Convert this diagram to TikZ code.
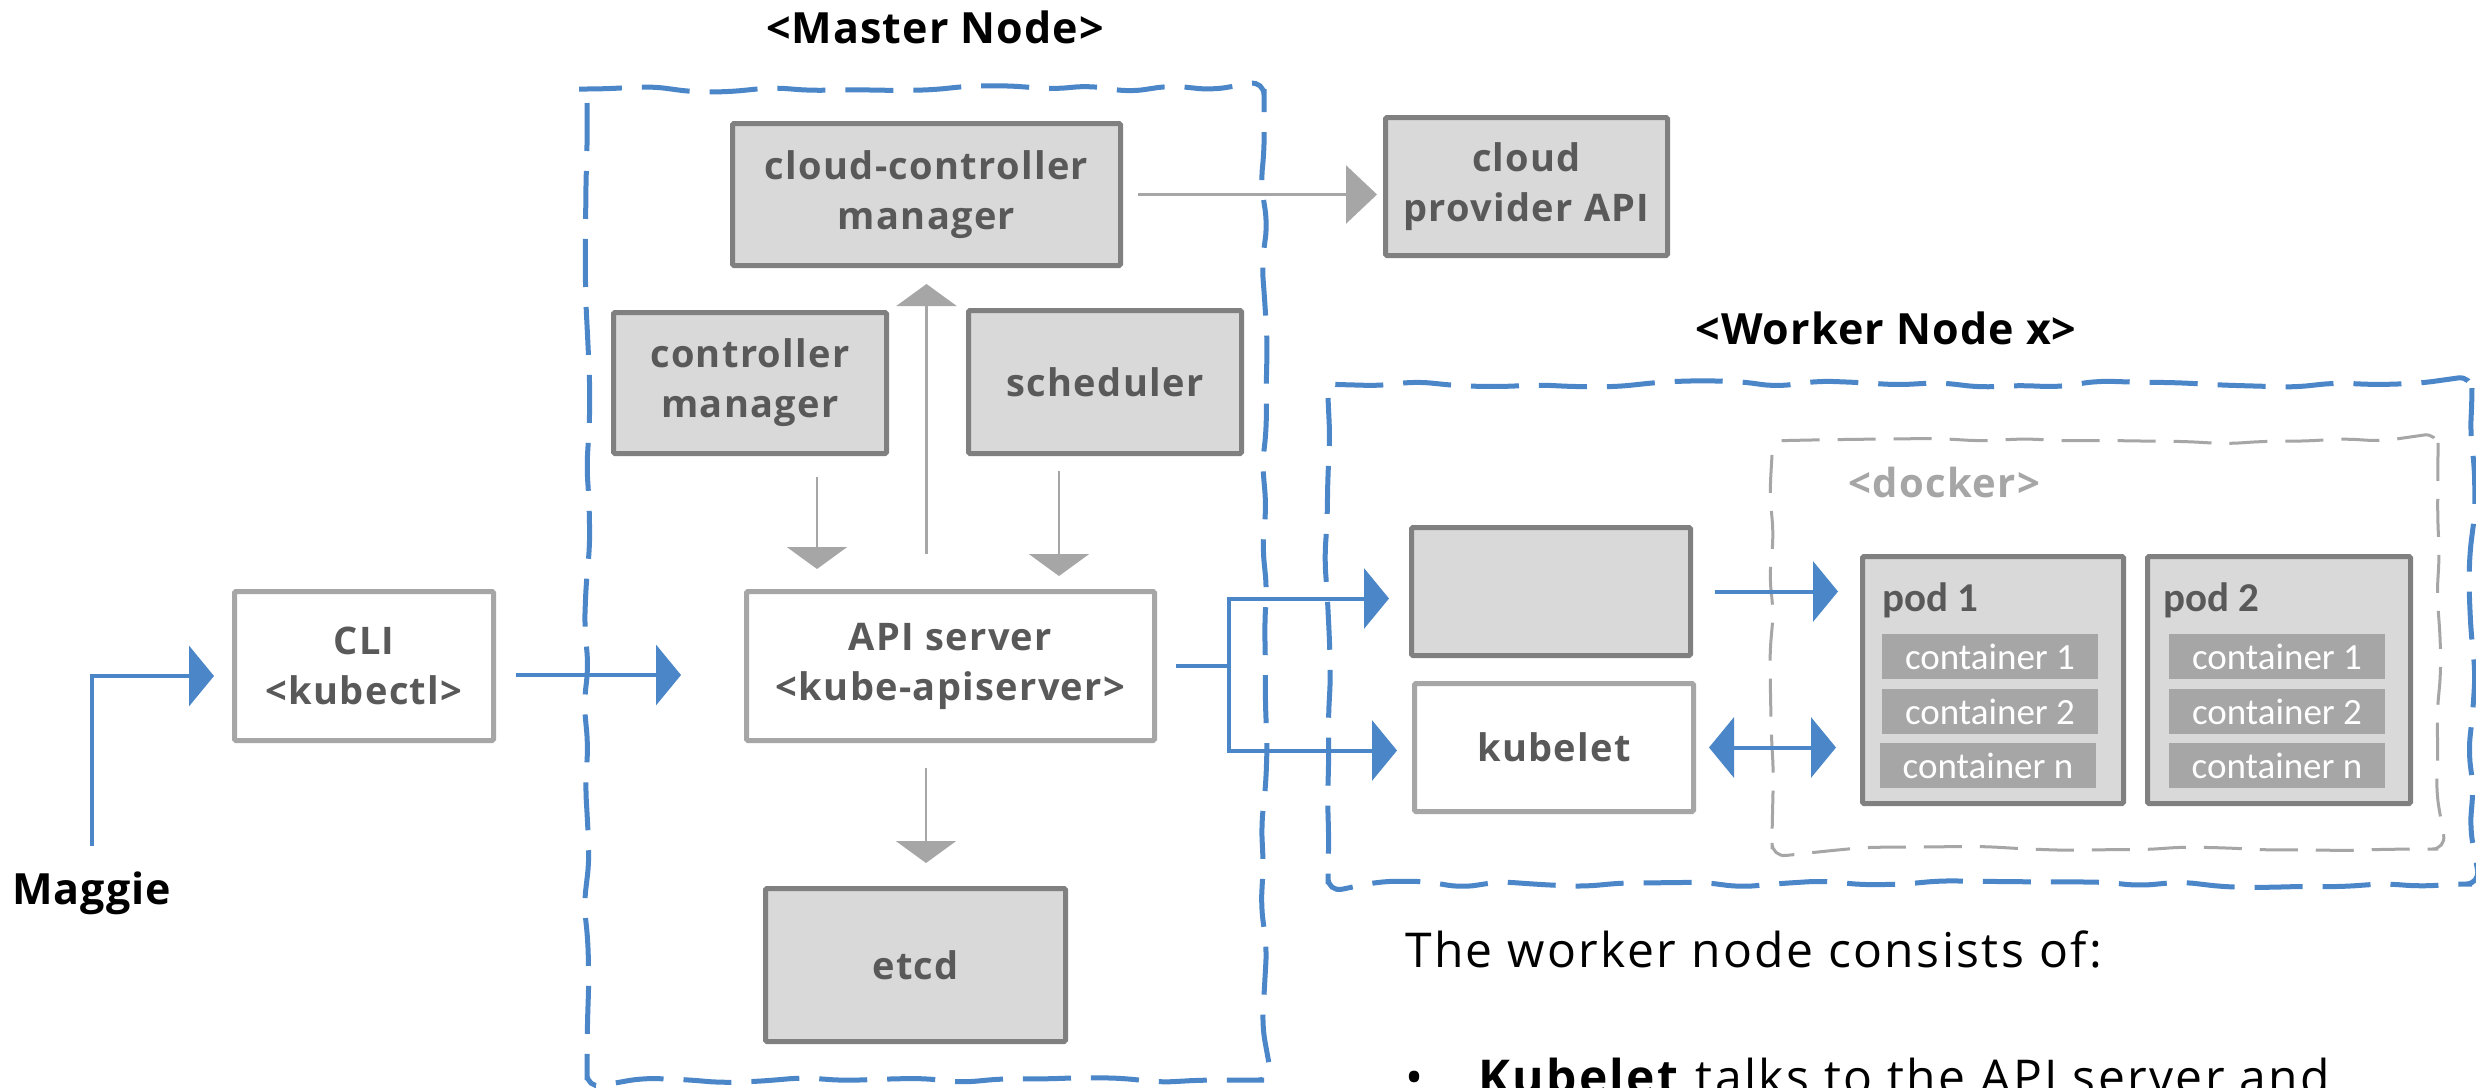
\documentclass[tikz,border=0pt]{standalone}
\usepackage{fontspec}
\setmainfont{Open Sans}
\newfontfamily\lsfont{Open Sans}[LetterSpace=3.5]
\newfontfamily\ttlfont{Open Sans}[LetterSpace=2.5]
\newfontfamily\bdfont{Open Sans}[LetterSpace=5]
\newfontfamily\cfont{Carlito}
\usetikzlibrary{arrows.meta,decorations.pathmorphing}
\definecolor{kblue}{HTML}{4A86C8}
\definecolor{kdark}{HTML}{808080}
\definecolor{kfill}{HTML}{D9D9D9}
\definecolor{ktext}{HTML}{595959}
\definecolor{klight}{HTML}{A6A6A6}
\newcommand\boxfont{\lsfont\fontsize{38}{50}\selectfont\bfseries}
\newcommand\dockfont{\lsfont\fontsize{40}{50}\selectfont\bfseries}
\newcommand\titlefont{\ttlfont\fontsize{43}{50}\selectfont\bfseries}
\newcommand\podfont{\cfont\fontsize{41}{45}\selectfont\bfseries}
\newcommand\contfont{\cfont\fontsize{37}{40}\selectfont}
\newcommand\bodyfont{\bdfont\fontsize{48}{56}\selectfont}
\begin{document}
\begin{tikzpicture}[x=1pt,y=-1pt,
  graybox/.style={draw=kdark, fill=kfill, line width=5pt, rounded corners=1.5pt,
    text=ktext, font=\boxfont, align=center, inner sep=0pt},
  whitebox/.style={graybox, draw=klight, fill=white},
  podbox/.style={graybox, minimum width=261pt, minimum height=247pt},
  contbox/.style={fill=klight, draw=none, text=white, font=\contfont,
    minimum width=216pt, minimum height=45pt, inner sep=0pt},
  titletext/.style={font=\titlefont, text=black, inner sep=0pt, anchor=base},
  bluearrow/.style={draw=kblue, line width=4pt, -{Triangle[length=25pt,width=60pt]}},
  blueline/.style={draw=kblue, line width=4pt},
  grayarrow/.style={draw=klight, line width=2.5pt, -{Triangle[length=22pt,width=60pt]}},
  masterframe/.style={draw=kblue, line width=5pt, dash pattern=on 48pt off 20pt,
    decorate, decoration={random steps, segment length=40pt, amplitude=3.5pt},
    rounded corners=14pt},
  dockerframe/.style={draw=klight, line width=3pt, dash pattern=on 38pt off 18pt,
    decorate, decoration={random steps, segment length=40pt, amplitude=3pt},
    rounded corners=14pt}]
\pgfmathsetseed{11}
\path[use as bounding box] (0,0) rectangle (2476,1087);
\clip (0,0) rectangle (2476,1087);
\fill[white] (0,0) rectangle (2476,1087);

% frames
\draw[masterframe] (587,89) rectangle (1264,1080);
\draw[masterframe] (1328,384) rectangle (2472,884);
\draw[dockerframe] (1772,441) rectangle (2438,849);

% titles
\node[titletext] (mastertitle) at (935,43) {<Master Node>};
\node[titletext] (workertitle) at (1886,344) {<Worker Node x>};
\node[titletext, anchor=base west] (maggie) at (12,904) {Maggie};
\node[font=\dockfont, text=klight, inner sep=0pt, anchor=base west] (dockertitle) at (1848,497) {<docker>};

% master boxes
\node[graybox, minimum width=388pt, minimum height=142pt] (ccm) at (926.5,194.5) {cloud-controller\\manager};
\node[graybox, minimum width=282pt, minimum height=138pt] (cp) at (1526.5,186.5) {cloud\\provider API};
\node[graybox, minimum width=273pt, minimum height=141pt] (cm) at (750,383) {controller\\manager};
\node[graybox, minimum width=273pt, minimum height=143pt] (sch) at (1105,382) {scheduler};
\node[whitebox, minimum width=259pt, minimum height=149pt] (cli) at (364,666) {CLI\\<kubectl>};
\node[whitebox, minimum width=408pt, minimum height=149pt] (api) at (950.5,666) {API server\\<kube-apiserver>};
\node[graybox, minimum width=300pt, minimum height=153pt] (etcd) at (915.5,965) {etcd};

% worker boxes
\node[graybox, minimum width=279pt, minimum height=128pt] (proxy) at (1551,591.5) {};
\node[whitebox, minimum width=279pt, minimum height=128pt] (kubelet) at (1554,747.5) {kubelet};
\node[podbox] (pod1) at (1993,680) {};
\node[podbox, minimum width=263pt] (pod2) at (2279,680) {};
\node[font=\podfont, text=ktext, inner sep=0pt, anchor=base west] (pod1label) at (1882,611) {pod 1};
\node[font=\podfont, text=ktext, inner sep=0pt, anchor=base west] (pod2label) at (2163,611) {pod 2};
\node[contbox] (c11) at (1990,656.5) {container 1};
\node[contbox] (c12) at (1990,711.5) {container 2};
\node[contbox] (c1n) at (1988,765.5) {container n};
\node[contbox] (c21) at (2277,656.5) {container 1};
\node[contbox] (c22) at (2277,711.5) {container 2};
\node[contbox] (c2n) at (2277,765.5) {container n};

% body text
\node[font=\bodyfont, inner sep=0pt, anchor=base west] (body) at (1405,967) {The worker node consists of:};
\node[font=\bodyfont, inner sep=0pt, anchor=base west] (bullet) at (1405,1094) {•};
\node[font=\bodyfont, inner sep=0pt, anchor=base west] (bullettext) at (1478,1094) {\textbf{Kubelet} talks to the API server and};

% connectors
\coordinate (split) at (1229,666);
\draw[bluearrow, shorten <=25pt, shorten >=18pt] (maggie.north) |- ([yshift=-10pt]cli.west);
\draw[bluearrow, shorten <=20pt, shorten >=63pt] ([yshift=-9pt]cli.east) -- ([yshift=-9pt]api.west);
\draw[blueline, shorten <=19pt] (api.east) -- (split);
\draw[bluearrow, shorten >=20pt] (split) |- ([yshift=-7pt]proxy.west);
\draw[bluearrow, shorten >=15pt] (split) |- ([yshift=-3pt]kubelet.west);
\draw[bluearrow, shorten <=22pt, shorten >=22pt] (proxy.east) -- (proxy.east -| pod1.west);
\draw[bluearrow, {Triangle[length=25pt,width=60pt]}-{Triangle[length=25pt,width=60pt]}, shorten <=13pt, shorten >=24pt] (kubelet.east) -- (kubelet.east -| pod1.west);

\draw[grayarrow, -{Triangle[length=31pt,width=58pt]}, shorten <=15pt, shorten >=6pt] (ccm.east) -- (ccm.east -| cp.west);
\draw[grayarrow, shorten <=35pt, shorten >=16pt] (api.north -| ccm.south) -- (ccm.south);
\draw[grayarrow, shorten <=21pt, shorten >=20pt] ([xshift=67pt]cm.south) -- ([xshift=67pt]cm.south |- api.north);
\draw[grayarrow, shorten <=15pt, shorten >=13pt] ([xshift=-46pt]sch.south) -- ([xshift=-46pt]sch.south |- api.north);
\draw[grayarrow, shorten <=25pt, shorten >=23pt] ([xshift=-24.5pt]api.south) -- ([xshift=-24.5pt]api.south |- etcd.north);
\end{tikzpicture}
\end{document}
